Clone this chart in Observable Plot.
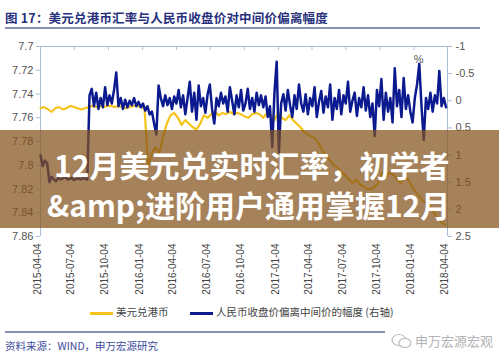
<!DOCTYPE html>
<html><head><meta charset="utf-8">
<script src="https://cdn.jsdelivr.net/npm/d3@7"></script>
<script src="https://cdn.jsdelivr.net/npm/@observablehq/plot@0.6"></script>
<style>
body{margin:0;background:#fff;}
#wrap{position:relative;width:499px;height:361px;overflow:hidden;font-family:"Noto Sans CJK SC",sans-serif;}
#chart{position:absolute;left:0;top:0;}
.abs{position:absolute;white-space:nowrap;line-height:1;}
</style></head><body>
<div id="wrap">
<div id="chart"></div>
<div class="abs" id="hdr" style="left:5px;top:12px;font-size:12.5px;font-weight:bold;color:#27307c;letter-spacing:0.2px;"></div>
<div class="abs" style="left:5px;top:27px;width:475px;height:1.5px;background:#8c90b4;"></div>
<div class="abs" style="left:90px;top:312px;width:23px;height:2.5px;background:#f6c31a;"></div>
<div class="abs" id="lg1" style="left:116px;top:307px;font-size:10.5px;color:#444;"></div>
<div class="abs" style="left:190px;top:312px;width:23px;height:2.5px;background:#0c1a8f;"></div>
<div class="abs" id="lg2" style="left:216px;top:307px;font-size:10.5px;color:#444;"></div>
<div class="abs" style="left:5px;top:331px;width:380px;height:1.5px;background:#8c90b4;"></div>
<div class="abs" id="src" style="left:5px;top:341px;font-size:10.5px;color:#3d4a9b;"></div>
<svg class="abs" style="left:391px;top:333px" width="22" height="16"><ellipse cx="8" cy="7" rx="7" ry="5.5" fill="none" stroke="#bbb" stroke-width="1.2"/><ellipse cx="14" cy="10" rx="6" ry="4.5" fill="#fff" stroke="#bbb" stroke-width="1.2"/></svg>
<div class="abs" id="wm" style="left:415px;top:334px;font-size:13px;color:#b3b3b3;"></div>
<div class="abs" style="left:0;top:130px;width:499px;height:98px;background:rgba(131,82,28,0.72);"></div>
<div class="abs" id="t1" style="left:54px;top:149px;font-size:30px;font-weight:bold;color:#fff;"></div>
<div class="abs" id="t2" style="left:47px;top:189px;font-size:30px;font-weight:bold;color:#fff;"></div>
</div>
<script>
// ---- text ----
const headerText = "图 17：美元兑港币汇率与人民币收盘价对中间价偏离幅度";
const legendNames = ["美元兑港币", "人民币收盘价偏离中间价的幅度 (右轴)"];
const sourceText = "资料来源：WIND，申万宏源研究";
const watermarkText = "申万宏源宏观";
const overlayLines = ["12月美元兑实时汇率，初学者", "&amp;进阶用户通用掌握12月"];
const rightUnit = "%";

// ---- ticks ----
const xTickLabels = ["2015-04-04","2015-07-04","2015-10-04","2016-01-04","2016-04-04","2016-07-04","2016-10-04","2017-01-04","2017-04-04","2017-07-04","2017-10-04","2018-01-04","2018-04-04"];
const leftTickLabels = ["7.7","7.72","7.74","7.76","7.78","7.8","7.82","7.84","7.86"];
const rightTickLabels = ["-1","-0.5","0","0.5","1","1.5","2","2.5"];

// ---- series ----
const yellowStart = "2015-04-04", yellowStepDays = 10; // 美元兑港币
const yellowValues = [7.752,7.751,7.753,7.755,7.752,7.751,7.753,7.752,7.750,7.751,7.752,7.753,7.752,7.751,7.750,7.751,7.750,7.751,7.750,7.750,7.751,7.750,7.751,7.752,7.751,7.750,7.750,7.751,7.752,
7.800,7.790,7.785,7.790,7.776,7.765,7.758,7.756,7.760,7.766,7.762,7.765,7.768,7.770,7.765,7.758,7.760,7.757,7.755,7.758,7.756,7.757,7.755,7.757,7.756,7.757,7.759,7.760,7.757,7.756,7.757,7.760,7.756,7.758,7.762,
7.756,7.760,7.762,7.758,7.762,7.765,7.768,7.772,7.774,7.776,7.778,7.782,7.788,7.792,7.796,7.800,7.802,7.806,7.808,7.812,7.815,7.812,7.816,7.818,7.820,7.820,7.818,7.815,7.806,7.810,7.806,7.808,7.812,7.815,7.810,7.812,
7.818,7.822,7.826,7.830,7.832,7.835,7.840,7.845,7.848,7.850];

const blueStart = "2015-04-04", blueStepDays = 6; // 人民币收盘价偏离中间价的幅度 (右轴, %)
const blueValues = [1.0,1.2,1.1,1.15,1.5,1.4,1.45,1.48,1.42,1.45,1.43,1.40,1.45,1.44,1.42,1.46,1.44,1.43,1.45,1.42,1.44,1.45,
-0.10,-0.22,0.10,-0.15,0.15,-0.05,0.12,-0.25,0.08,-0.10,0.05,-0.20,-0.52,0.10,-0.05,0.15,-0.02,0.12,0.00,0.08,
-0.05,0.10,0.02,0.12,0.05,0.18,0.10,0.25,0.20,0.42,0.62,-0.28,-0.05,0.10,-0.10,0.08,-0.05,0.15,-0.08,0.05,
-0.20,0.12,-0.10,0.25,-0.05,-0.35,0.20,-0.15,0.35,-0.28,0.10,-0.05,0.22,-0.12,-0.30,0.15,0.42,-0.05,0.10,-0.15,
0.05,-0.08,0.20,-0.25,0.00,0.25,-0.10,0.12,-0.20,0.18,0.05,-0.22,0.15,-0.05,0.20,-0.15,0.08,-0.10,0.12,-0.08,
0.30,0.10,0.85,-0.15,-0.72,0.95,0.05,-0.12,0.18,-0.20,0.08,0.30,-0.10,0.15,-0.30,0.05,0.20,-0.12,0.25,-0.05,
0.10,-0.25,0.30,0.02,-0.18,0.22,-0.08,0.12,-0.30,0.35,-0.05,0.15,-0.20,0.25,-0.10,0.05,-0.35,0.20,0.00,-0.15,
0.28,-0.05,0.12,-0.25,0.18,-0.10,0.30,0.05,0.65,-0.20,0.10,-0.40,0.35,-0.15,0.20,-0.05,0.40,-0.60,0.10,-0.20,
0.30,-0.42,0.15,-0.10,0.20,0.40,-0.05,-0.30,-0.68,0.10,0.72,-0.05,0.15,-0.15,0.20,-0.10,0.05,-0.55,0.10,-0.05,0.12];

// ---- build ----
document.getElementById("hdr").textContent = headerText;
document.getElementById("lg1").textContent = legendNames[0];
document.getElementById("lg2").textContent = legendNames[1];
document.getElementById("src").textContent = sourceText;
document.getElementById("wm").textContent = watermarkText;
document.getElementById("t1").textContent = overlayLines[0];
document.getElementById("t2").textContent = overlayLines[1];

const yellowData = yellowValues.map((v,i)=>({date: d3.utcDay.offset(new Date(yellowStart), i*yellowStepDays), v}));
const blueData = blueValues.map((v,i)=>({date: d3.utcDay.offset(new Date(blueStart), i*blueStepDays), v}));
const tickDates = xTickLabels.map(s=>new Date(s));
const xDomain = [tickDates[0], tickDates[tickDates.length-1]];
const leftTicks = leftTickLabels.map(Number);
const rightTicks = rightTickLabels.map(Number);
const leftDomain = [leftTicks[0], leftTicks[leftTicks.length-1]];
const rightDomain = [rightTicks[0], rightTicks[rightTicks.length-1]];
const toLeft = r => leftDomain[0] + (r - rightDomain[0]) * (leftDomain[1]-leftDomain[0])/(rightDomain[1]-rightDomain[0]);
const axisColor = "#a9bfd8";

const chart = Plot.plot({
  width: 499, height: 361,
  marginTop: 46, marginBottom: 125, marginLeft: 40, marginRight: 52,
  style: {background: "transparent", fontFamily: "'Liberation Sans', Arial, sans-serif", color: "#555"},
  x: {type: "utc", domain: xDomain},
  y: {domain: leftDomain, reverse: true},
  marks: [
    Plot.ruleY([leftDomain[0]], {stroke: axisColor}),
    Plot.ruleX([xDomain[0]], {stroke: axisColor}),
    Plot.ruleX([xDomain[1]], {stroke: axisColor}),
    Plot.axisX({anchor: "top", ticks: tickDates, tickSize: 3, dy: 3, stroke: axisColor, tickFormat: () => "", label: null}),
    Plot.axisY({anchor: "left", ticks: leftTicks, tickSize: 4, tickPadding: 3, stroke: axisColor, fill: "#555", fontSize: 11,
      tickFormat: d => leftTickLabels.find(l => Math.abs(+l - d) < 1e-9) ?? "", label: null}),
    Plot.axisY({anchor: "right", ticks: rightTicks.map(toLeft), tickSize: 4, tickPadding: 4, stroke: axisColor, fill: "#555", fontSize: 11,
      tickFormat: d => rightTickLabels.find(l => Math.abs(toLeft(+l) - d) < 1e-9) ?? "", label: null}),
    Plot.line(yellowData, {x: "date", y: "v", stroke: "#f6c31a", strokeWidth: 2.2}),
    Plot.line(blueData, {x: "date", y: d => toLeft(d.v), stroke: "#0c1a8f", strokeWidth: 2.5}),
    Plot.text(tickDates, {x: d => d, frameAnchor: "bottom", dy: 7, rotate: -90, textAnchor: "end", text: d3.utcFormat("%Y-%m-%d"), fontSize: 10, fill: "#444"}),
    Plot.text([rightUnit], {frameAnchor: "top-right", dx: -24, dy: 9, text: d => d, fontSize: 11, fill: "#555"})
  ]
});
document.getElementById("chart").appendChild(chart);
</script>
</body></html>
